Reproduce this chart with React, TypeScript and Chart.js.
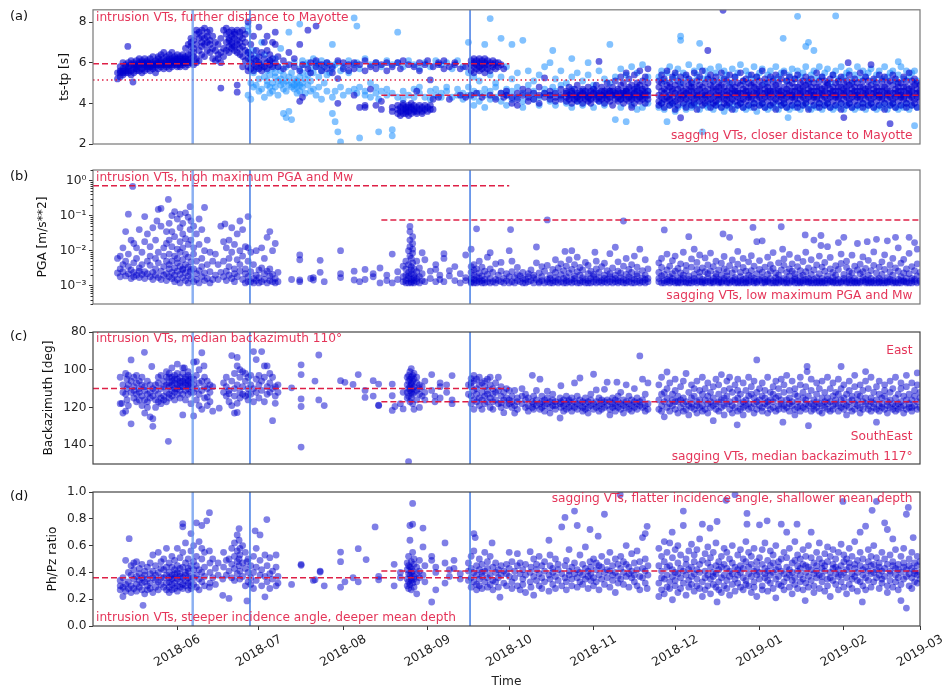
import React, { useEffect, useRef } from 'react';
import { Chart, registerables } from 'chart.js';
Chart.register(...registerables);

type Row = number[];

// ---------- x axis (days since 2018-05-01) ----------
const monthTickDays = [31, 61, 92, 123, 153, 184, 214, 245, 276, 304];
const monthTickLabels = ['2018-06', '2018-07', '2018-08', '2018-09', '2018-10', '2018-11', '2018-12', '2019-01', '2019-02', '2019-03'];
const eventLineDays = [36.65, 57.7, 138.6];

// ---------- panel (a): ts-tp [s]; rows = [day, values...] ----------
const tsTicks = [2, 4, 6, 8];
const tsTickLabels = ['2', '4', '6', '8'];
const aDarkIntrusion: Row[] = [
[9,5.2,5.5],[10,5.3,5.6,5.8,5.5],[11,5.5,5.7,6.0,5.4,5.6],[12,5.6,5.9,5.5,5.8],[12.8,6.8],[13,5.7,5.5,6.0,5.8,5.6],[14,5.6,5.9,6.1,5.4],[14.7,5.05],[15,5.7,5.9,5.5,6.0,5.8],[16,5.8,6.1,5.6,5.9,5.7],[17,5.6,5.9,6.2,5.8,6.0],[18,5.7,6.0,5.9,5.5,6.1],[19,5.8,6.0,5.6,6.2,5.9],[20,5.9,5.7,6.1,5.8,6.0],[21,5.6,5.9,6.2,5.8,6.0],[22,5.8,6.0,6.3,5.7,5.9],[23,5.5,5.9,6.1,5.8,6.0],[24,5.9,6.0,5.7,6.2,6.3],[25,5.8,6.1,5.9,6.4,6.0],[26,5.9,6.2,5.7,6.0,6.5],[27,6.0,5.8,6.3,6.1,5.9],[28,5.9,6.2,6.0,6.4,5.7,6.1],[29,6.0,6.2,5.8,6.1,6.5,5.9],[30,6.1,5.9,6.3,6.0,6.2],[31,6.0,6.2,5.8,6.4,6.1,5.9],[32,6.1,5.9,6.3,6.0,6.2,5.8],[33,6.0,6.2,5.9,6.4,6.1,6.0],[34,6.1,6.3,5.8,6.0,6.7,6.2],[35,6.1,6.4,6.0,6.9,6.2,5.9],[36,6.5,6.8,7.0,6.2,6.0,7.2],[37,6.3,6.7,7.1,5.9,6.5],[38,6.9,7.4,6.2,6.0,7.6],[39,6.6,7.2,7.5,6.1],[40,7.0,7.6,6.8,6.4,7.3],[41,7.2,6.9,7.7,6.3],[42,7.5,7.0,6.6,7.3],[43,7.1,7.6,6.5,6.9],[44,7.3,6.7,6.2],[45,6.6,6.1,7.0],[46,6.4,6.9,6.2],[47,4.75,6.5,6.0,7.2],[48,6.3,7.6,6.7],[49,7.4,7.0,6.6,7.7],[50,7.2,7.5,6.8,6.5,7.1],[51,7.6,6.9,7.3,6.7,7.0],[52,7.4,6.8,7.2,6.6,7.5],[53,4.55,4.9,7.1,6.9,7.6,6.5],[54,7.3,7.0,6.7,7.5,6.4],[55,7.2,6.8,7.6,6.3,5.8],[56,7.4,6.6,6.1,7.0],[57,6.2,5.8,6.5,8.0,5.6]
];
const aDarkTransition: Row[] = [
[58,6.0,5.7,6.4,6.9],[59,5.9,6.2,5.6,7.3],[60,6.1,5.8,6.6],[61,7.75,6.0,5.7,6.3],[62,5.9,6.5,5.6],[63,6.2,5.8,7.0],[64,6.0,6.6,5.7,7.3],[65,6.4,5.9,6.1],[66,7.0,6.2,5.8],[67,6.9,6.0,7.5],[68,6.3,5.8],[70,6.1,5.7],[72,6.5,5.9],[74,5.8,6.2],[76,6.9,5.6,4.1],[77,5.9,4.3],[79,7.6,5.7],[80,6.0,5.5],[82,5.8,7.8,6.1],[84,5.6,5.9],[86,6.0,5.7],[88,5.8,5.5],[90,6.1,5.22,4.0],[92,5.7,6.0],[94,5.9,5.6],[96,6.0,4.4,5.7],[98,5.9,3.8],[100,5.6,6.1,3.9,3.8],[102,5.8,4.7],[104,6.0,5.7,3.9],[106,5.9,4.1,3.7],[108,5.6,6.0],[110,5.8,3.8,3.6],[112,6.0,3.7,3.9,3.5],[113,3.6,3.8,3.4,5.7],[114,3.7,3.5,3.9,4.0,6.1],[115,3.6,3.8,3.5,3.7],[116,3.9,3.6,3.8,3.4,5.9],[117,3.7,3.5,3.8,4.0],[118,3.6,3.9,3.7,5.8],[119,3.8,4.6,3.5,3.6],[120,3.7,3.9,6.0,5.6],[121,3.6,3.8,3.5],[122,3.9,3.7,5.9],[123,3.8,3.6,6.1],[124,5.15,3.7,3.9],[125,3.7,4.2,5.8],[127,5.9,4.3,6.0],[129,6.1,5.7],[131,5.8,4.2],[133,6.0,5.9],[135,5.7,4.4],[137,5.8,4.3],[139,5.9,6.1,5.6,4.4],[140,6.0,5.8,6.2,5.5],[141,5.7,6.1,5.9,4.5],[142,6.0,5.6,6.2,5.8],[143,5.9,6.1,5.7,4.3],[144,6.0,5.8,5.5,6.2],[145,5.9,6.1,5.7],[146,6.0,5.6,4.4],[147,5.8,6.1,5.9],[148,5.7,6.0,4.2],[149,6.0,5.8],[150,5.9,4.5],[151,5.7,4.3]
];
const aDarkSagging: Row[] = [
[152,4.4,4.6],[154,4.3,4.0],[156,4.5,4.2,3.9],[158,4.4,4.7],[160,4.3,4.1,4.6],[162,4.5,4.2],[164,4.4,4.8,4.0],[166,5.25,4.3,4.5],[168,4.6,4.2,4.4],[170,4.3,4.5,4.1],[172,4.4,4.7,4.2],[174,4.5,4.3,4.1,4.6],[175,4.2,4.4,4.8],[176,4.6,4.3,4.0,4.5],[177,4.4,4.2,4.7],[178,4.3,4.5,4.1,4.9],[179,4.6,4.4,4.2],[180,4.5,4.3,4.7,4.0],[181,4.4,4.6,4.2],[182,4.3,4.5,4.8,4.1],[183,4.6,4.4,4.2,4.0],[184,4.5,4.3,4.7],[185,4.4,4.2,4.6,4.9],[186,6.06,4.3,4.5,4.1],[187,4.6,4.4,4.2,4.8],[188,4.5,4.3,4.0,4.6],[189,4.4,4.7,4.2,5.0],[190,4.3,4.5,4.1,4.6],[191,4.6,4.4,4.8,3.9],[192,4.5,4.2,4.4,5.1],[193,4.3,4.6,4.1,4.7],[194,4.4,4.5,4.9,4.2,5.3],[195,4.6,4.3,4.0,4.5,5.0],[196,4.4,4.7,4.2,4.6,5.5],[197,4.5,4.3,4.8,4.1,5.2],[198,4.6,4.4,4.2,4.9,3.8],[199,4.3,4.5,4.7,4.0,5.4],[200,4.4,4.6,4.2,5.0,4.8],[201,4.5,4.3,4.9,4.1,5.6],[202,4.6,4.4,4.2,4.7,5.1],[203,4.3,4.5,4.8,4.0,5.3],[204,4.4,4.6,5.0,4.2,5.7]
];
const aDarkLate: Row[] = [
[208,4.4,4.1,4.8,3.9,5.1],[209,4.6,4.3,5.0,4.0,5.4],[210,4.5,4.2,4.7,3.8,5.2],[211,4.3,4.6,4.9,4.1,5.6],[212,4.4,4.8,4.2,3.9,5.0],[213,4.6,4.3,5.3,4.0,4.7],[214,4.5,4.1,4.9,3.7,5.5],[215,4.2,4.7,4.4,3.9,5.1],[216,3.29,4.5,4.8,4.2,5.3],[217,4.3,4.6,4.0,5.0,4.4],[218,4.7,4.2,4.5,3.8,5.4],[219,4.4,4.9,4.1,5.2,4.6],[220,4.3,4.6,3.9,5.0,4.8],[221,4.5,4.2,4.8,5.5,4.0],[222,4.6,4.3,5.1,3.7,4.4],[223,4.4,4.7,4.1,5.3,4.9],[224,4.2,4.5,4.8,3.9,5.6],[225,4.6,4.3,5.0,4.0,4.4],[226,6.6,4.4,4.7,4.1,5.2],[227,4.5,4.2,4.9,3.8,5.4],[228,4.3,4.6,4.0,5.1,4.8],[229,4.7,4.4,4.1,5.3,3.9],[230,4.4,4.6,4.2,5.0,4.8],[231,4.5,4.3,4.9,3.8,5.5],[231.6,8.58],[232,4.2,4.6,4.8,4.0,5.2],[233,4.6,4.4,5.1,3.9,4.2],[234,4.3,4.5,4.8,5.4,4.0],[235,4.5,4.2,4.7,3.7,5.0],[236,4.4,4.8,4.1,5.3,4.6],[237,4.6,4.3,5.0,3.9,4.5],[238,4.2,4.5,4.9,4.0,5.5],[239,4.5,4.7,4.2,5.1,3.8],[240,4.4,4.1,4.8,5.2,4.6],[241,4.6,4.3,5.0,3.9,4.4],[242,4.3,4.6,4.2,5.4,4.9],[243,4.5,4.8,4.0,5.0,3.8],[244,4.4,4.2,4.7,5.3,4.5],[245,4.6,4.3,5.1,3.9,4.8],[246,4.2,4.5,4.9,4.0,5.6],[247,4.5,4.7,4.3,5.2,3.8],[248,4.4,4.1,4.8,5.0,4.6],[249,4.6,4.3,5.3,3.9,4.5],[250,4.3,4.6,4.0,5.1,4.8],[251,4.5,4.2,4.9,5.4,3.7],[252,4.4,4.7,4.1,5.0,4.6],[253,4.6,4.3,5.2,3.9,4.4],[254,4.2,4.5,4.8,4.0,5.5],[255,4.5,4.7,4.3,5.1,3.8],[256,4.4,4.1,4.9,5.3,4.6],[257,4.6,4.3,5.0,3.9,4.4],[258,4.3,4.6,4.2,5.2,4.8],[259,4.5,4.8,4.0,5.4,3.8],[260,4.4,4.2,4.7,5.0,4.5],[261,4.6,4.3,5.1,3.9,4.8],[262,4.2,4.5,4.9,4.0,5.3],[263,4.5,4.7,4.3,5.0,3.7],[264,4.4,4.1,4.8,5.2,4.6],[265,4.6,4.3,5.0,3.9,4.4],[266,4.3,4.6,4.2,5.5,4.8],[267,4.5,4.8,4.0,5.1,3.8],[268,4.4,4.2,4.7,5.3,4.5],[269,4.6,4.3,5.1,3.9,4.8],[270,4.2,4.5,4.9,4.0,5.0],[271,4.5,4.7,4.3,5.2,3.8],[272,4.4,4.1,4.8,5.4,4.6],[273,4.6,4.3,5.0,3.9,4.4],[274,4.3,4.6,4.2,5.1,4.8],[275,4.5,4.8,4.0,5.3,3.7],[276,3.3,4.4,4.2,4.7,5.0,4.5],[277,4.6,4.3,5.1,3.9,4.8],[277.6,6.0],[278,4.2,4.5,4.9,4.0,5.4],[279,4.5,4.7,4.3,5.0,3.8],[280,4.4,4.1,4.8,5.2,4.6],[281,4.6,4.3,5.0,3.9,4.4],[282,4.3,4.6,4.2,5.5,4.8],[283,4.5,4.8,4.0,5.1,3.8],[284,4.4,4.2,4.7,5.3,4.5],[285,4.6,4.3,5.1,3.9,4.8],[286,5.9,4.2,4.5,4.9,4.0],[287,4.5,4.7,4.3,5.2,3.8],[288,4.4,4.1,4.8,5.0,4.6],[289,4.6,4.3,5.4,3.9,4.4],[290,4.3,4.6,4.2,5.1,4.8],[291,4.5,4.8,4.0,5.3,3.7],[292,4.4,4.2,4.7,5.0,4.5],[293,3.0,4.6,4.3,5.1,3.9],[294,4.2,4.5,4.9,4.0,5.4],[295,4.5,4.7,4.3,5.2,3.8],[296,4.4,4.1,4.8,5.0,4.6],[297,4.6,4.3,5.0,3.9,4.4],[298,4.3,4.6,4.2,5.3,4.8],[299,4.5,4.8,4.0,5.1,3.8],[300,4.4,4.2,4.7,5.5,4.5],[301,4.6,4.3,5.1,3.9,4.8],[302,4.2,4.5,4.9,4.0,5.2],[303,4.5,4.7,4.3,5.0,3.8],[304,4.4,4.6,4.1,4.9]
];
const aLightTransition: Row[] = [
[57,7.55,7.8,4.4,6.5],[58,6.2,5.0,4.2],[59,5.5,6.6,4.8],[60,4.9,5.7,6.3],[61,5.2,4.6,6.0],[62,5.8,4.7,7.0],[63,5.3,4.3,6.4],[64,4.9,5.6,5.1],[65,5.4,4.5,6.1,4.8],[66,5.0,5.7,4.6],[67,4.8,5.3,6.2,5.5],[68,5.1,4.4,5.8],[69,5.6,4.9,5.2,6.7],[70,3.5,4.7,5.4,5.0],[71,3.3,5.1,4.6,5.8],[72,7.5,4.9,5.3,3.6],[73,5.0,4.8,5.5,3.2],[74,4.7,5.2,4.9,6.0],[75,5.0,4.8,5.1,4.5],[76,7.9,4.9,5.3,4.6,5.7],[77,4.8,5.0,5.5,6.1],[78,5.2,4.5,5.9],[79,4.9,5.4,6.0],[80,5.1,4.6,5.7],[81,4.7,5.5,6.2],[82,5.8,4.4,6.0],[83,5.3,4.8,5.9],[84,4.2,5.6,6.1],[85,5.0,5.8],[86,4.6,6.0,5.4],[87,5.5,5.9],[88,6.9,4.3,3.5,5.7],[89,3.1,5.9,4.6],[90,2.6,6.0],[91,2.1,4.8,5.6],[92,5.8,4.4],[94,6.1,5.5,4.6],[96,8.2,4.7,5.9],[97,7.8,4.5,6.0],[98,2.3,4.8,5.7],[100,4.4,6.2,4.6],[102,5.9,4.3,5.0],[104,4.5,6.0,4.8],[105,2.6,4.2],[106,5.8,4.6],[108,4.4,6.1,4.7],[110,2.4,4.5,5.9,2.7],[112,7.5,4.3,6.0],[114,4.6,5.8,4.2],[116,4.4,6.1],[118,4.7,5.9,4.3],[120,4.5,5.7,4.8],[122,4.3,6.0],[124,4.6,5.8,4.2],[126,4.4,6.1,4.7],[128,4.5,5.9,4.3],[130,4.6,6.0,4.8],[132,4.3,5.7],[134,4.7,6.1,4.4],[136,4.5,5.8,4.2],[138,4.8,7.0,4.4,5.5]
];
const aLightSagging: Row[] = [
[140,4.3,4.6,5.3,3.9],[142,4.5,4.1,5.1],[144,6.9,4.4,4.7,3.8],[146,8.17,4.6,4.2,5.4],[148,4.3,4.8,5.0],[150,4.5,7.2,4.1,5.3],[152,4.7,4.4,5.8,3.9],[154,6.9,4.6,4.2,5.2],[156,4.8,4.3,5.5],[158,7.1,4.5,4.1,3.8],[160,4.4,4.9,5.6],[162,4.6,4.2,5.1],[164,4.3,5.4,3.9],[166,4.7,4.5,5.8],[168,4.4,6.0,4.1],[169,6.6,4.8],[170,4.6,5.2,3.9],[172,4.3,4.9,5.6],[174,4.5,5.0,4.0],[176,6.2,4.7,5.3,3.8],[178,4.4,5.5,4.1],[180,4.6,5.1,3.9],[182,4.3,5.4,6.0],[184,4.7,4.9,3.8],[186,4.5,5.6,4.1],[188,4.4,5.2,3.9],[190,6.9,4.6,5.0],[192,3.2,4.5,5.3],[194,4.2,5.7,3.8],[196,3.1,4.6,5.4],[198,4.3,5.8,3.9],[200,4.7,5.5,3.7],[202,4.4,5.9,3.8],[204,4.6,5.3,4.0]
];
const aLightLate: Row[] = [
[208,5.3,3.8],[209,5.6,4.0],[210,3.7,5.1],[211,3.1,5.5],[212,5.8,3.9],[213,4.0,5.2],[214,5.4,3.6],[215,3.8,5.7],[216,7.3,7.1,5.0],[217,3.9,5.5],[218,5.3,3.7],[219,5.9,4.0],[220,3.8,5.1],[221,5.6,3.9],[222,4.0,5.4],[223,6.95,3.7,5.8],[224,2.6,5.2],[225,3.9,5.6],[226,5.3,3.8],[227,5.7,4.0],[228,3.7,5.1],[229,5.5,3.9],[230,4.0,5.8],[231,3.8,5.2],[232,5.6,3.6],[233,3.9,5.4],[234,5.0,3.8],[235,5.7,4.0],[236,3.7,5.3],[237,5.5,3.9],[238,4.0,5.9],[239,3.8,5.1],[240,5.6,3.7],[241,3.9,5.4],[242,5.2,3.8],[243,5.8,4.0],[244,3.6,5.3],[245,5.5,3.9],[246,4.0,5.7],[247,3.8,5.0],[248,5.4,3.7],[249,3.9,5.6],[250,5.2,3.8],[251,5.8,4.0],[252,3.7,5.3],[253,5.5,3.9],[253.7,7.2],[254,4.0,5.6],[255,3.8,5.1],[255.5,3.3],[256,5.4,3.7],[257,3.9,5.7],[258,5.2,3.8],[259,8.28,5.6,4.0],[260,3.7,5.3],[261,5.5,3.9],[262,6.8,4.0,5.8],[263,7.0,3.8,5.1],[264,5.4,3.7],[265,6.6,3.9,5.6],[266,5.2,3.8],[267,5.8,4.0],[268,3.7,5.3],[269,5.5,3.9],[270,4.0,5.7],[271,3.8,5.0],[272,5.4,3.7],[273,8.3,3.9,5.6],[274,5.2,3.8],[275,5.8,4.0],[276,3.7,5.3],[277,5.5,3.9],[278,4.0,5.6],[279,3.8,5.1],[280,5.4,3.7],[281,3.9,5.8],[282,5.2,3.8],[283,5.6,4.0],[284,3.7,5.3],[285,5.5,3.9],[286,4.0,5.7],[287,3.8,5.1],[288,5.4,3.7],[289,3.9,5.6],[290,5.2,3.8],[291,5.8,4.0],[292,3.7,5.3],[293,5.5,3.9],[294,4.0,5.6],[295,3.8,5.1],[296,6.05,5.4,3.7],[297,3.9,5.8],[298,5.2,3.8],[299,5.6,4.0],[300,3.7,5.3],[301,5.5,3.9],[302,2.9,5.6],[303,3.8,5.1]
];

// ---------- panel (b): PGA [m/s**2] ----------
const pgaTicks = [1e-3, 1e-2, 1e-1, 1];
const pgaTickLabels = ['10\u207B\u00B3', '10\u207B\u00B2', '10\u207B\u00B9', '10\u2070'];
const pgaIntrusion: Row[] = [
[9,2.3e-3,6e-3],[10,7e-3,3e-3,1.8e-3],[11,2.5e-3,0.012,4e-3],[12,1.9e-3,5e-3,0.035],[13,2.2e-3,0.11,8e-3,3.5e-3],[14,1.6e-3,0.02,2.8e-3],[14.6,0.68],[15,4.5e-3,2.4e-3,0.016,1.8e-3],[16,0.012,2e-3,6e-3],[17,2.6e-3,0.04,3.2e-3,1.7e-3],[18,9e-3,2.1e-3,4e-3],[19,0.094,2.5e-3,0.018,1.6e-3],[20,5e-3,0.03,2.2e-3],[21,1.8e-3,0.013,3.8e-3,7e-3],[22,0.045,2.4e-3,1.5e-3],[23,6e-3,2e-3,0.02,3e-3],[23.5,0.07],[24,0.15,1.7e-3,9e-3,4.5e-3],[25,2.6e-3,0.16,0.05,1.5e-3],[26,0.012,3.5e-3,2e-3,7e-3],[27,0.035,2.2e-3,5e-3,0.016,1.4e-3],[27.7,0.29],[28,0.06,3e-3,1.8e-3,8e-3,0.02,4e-3],[29,0.1,2.4e-3,5e-3,0.013,1.6e-3,0.035],[30,0.13,3.2e-3,7e-3,2e-3,0.025,1.3e-3],[31,0.08,4.5e-3,2.6e-3,0.011,1.5e-3,6e-3],[32,0.045,2.1e-3,9e-3,3.6e-3,0.018,1.2e-3,0.11],[33,0.06,2.8e-3,5.5e-3,1.7e-3,0.03,0.012,3e-3],[34,0.12,2.3e-3,4e-3,0.008,1.4e-3,0.022],[35,0.09,3.4e-3,1.9e-3,0.015,6.5e-3,1.2e-3],[35.7,0.18,2.5e-3,0.04],[36,0.07,4.8e-3,1.6e-3,0.02,2.9e-3],[37,0.05,3e-3,1.3e-3,8e-3,0.012],[38,0.03,2.2e-3,5e-3,1.5e-3],[39,0.08,0.015,2.7e-3,1.2e-3],[40,0.04,6e-3,1.8e-3,3.5e-3],[41,0.17,0.01,2.3e-3,1.4e-3],[42,0.02,4e-3,1.6e-3],[43,9e-3,2.5e-3,1.2e-3],[44,5e-3,1.5e-3],[45,2e-3,8e-3],[46,1.5e-3,4e-3],[47,0.05,2.4e-3],[48,1.8e-3,0.018,5e-3],[48.5,0.058],[49,2.6e-3,0.012,1.4e-3],[50,6e-3,0.02,2e-3,3.5e-3],[51,1.6e-3,9e-3,0.045],[52,3e-3,0.015,2.2e-3,1.3e-3],[53,0.03,5.5e-3,1.8e-3],[54,0.07,0.01,2.6e-3,4e-3],[55,0.04,1.5e-3,7e-3],[56,2.2e-3,0.013,1.2e-3,3e-3],[57,0.094,0.012,1.8e-3,1.3e-3,5e-3],[58,1.3e-3,2.5e-3,9e-3],[59,1.6e-3,1.2e-3,4e-3],[60,2e-3,1.4e-3,0.01],[61,1.2e-3,2.8e-3,1.7e-3],[62,3.2e-3,1.3e-3,0.012],[63,1.5e-3,2.2e-3,6e-3],[64,1.2e-3,0.024,2.6e-3],[65,0.035,1.4e-3,3e-3,1.9e-3],[66,1.3e-3,0.01,2.1e-3],[67,1.6e-3,0.016,1.2e-3],[68,2.4e-3,1.3e-3]
];
const pgaSagging: Row[] = [
[73,1.5e-3],[76,7.5e-3,5.5e-3,1.3e-3,1.45e-3],[80,1.6e-3],[81,1.7e-3,1.45e-3],[83.5,5.3e-3,2.4e-3],[85,1.3e-3],[91,0.01,2.2e-3,1.7e-3],[96,1.45e-3,2.6e-3],[98,1.3e-3],[100,2.9e-3,1.5e-3],[103,2.2e-3,1.8e-3],[105.5,3.2e-3,1.2e-3],[108,1.4e-3,2e-3],[110,8e-3,1.2e-3],[112,1.5e-3,2.5e-3],[114,3.6e-3,1.3e-3,1.8e-3],[115,2e-3,1.4e-3,5e-3,1.2e-3,3e-3],[116,0.01,1.6e-3,2.4e-3,1.2e-3,4e-3,1.9e-3],[116.5,0.049,0.035,0.02,0.013,7e-3],[117,1.3e-3,2.2e-3,1.5e-3,3.5e-3,6e-3,1.2e-3,2.8e-3],[117.5,0.025,0.016,0.011,8.5e-3,4.5e-3],[118,1.4e-3,1.2e-3,2e-3,3e-3,1.7e-3],[119,2.5e-3,1.3e-3,5e-3,1.6e-3],[120,1.2e-3,3.2e-3,1.8e-3],[121,8.7e-3,1.4e-3,2.2e-3],[122,5.5e-3,1.3e-3],[124,1.6e-3,2.6e-3],[126,2.9e-3,1.3e-3,4e-3],[127.5,1.5e-3,2e-3],[129,8.2e-3,6e-3,1.3e-3],[131,1.9e-3,2.7e-3],[133,1.4e-3,3.5e-3],[135,1.2e-3,2.2e-3],[137,7.5e-3,1.4e-3,1.7e-3],
[139,0.011,1.3e-3,2.4e-3,1.6e-3,3.5e-3,1.2e-3],[140,1.5e-3,2e-3,1.2e-3,4e-3,2.8e-3],[141,0.042,1.4e-3,1.8e-3,3e-3,1.2e-3],[142,2.3e-3,1.3e-3,5e-3,1.6e-3],[143,1.2e-3,3.4e-3,1.9e-3,1.4e-3],[144,2.6e-3,1.5e-3,1.2e-3],[145,6.5e-3,1.3e-3,2.1e-3],[146,8.7e-3,1.6e-3,1.2e-3,3e-3],[147,2.4e-3,1.3e-3],[148,1.5e-3,4.2e-3,1.2e-3],[149,2e-3,1.4e-3],[150,4.6e-3,1.3e-3,2.6e-3],[151,1.6e-3,1.2e-3],[152,2.2e-3,1.4e-3],[153,0.01,1.8e-3,1.2e-3],[153.5,0.04],[154,5e-3,1.3e-3,2.5e-3],[155,1.7e-3,1.2e-3],[156,2.1e-3,1.4e-3,3.3e-3],[157,1.3e-3,1.9e-3],[158,1.6e-3,2.4e-3,1.2e-3],[159,1.2e-3,1.5e-3],[160,2.2e-3,1.3e-3,1.8e-3],[161,1.4e-3,2.8e-3],[162,1.2e-3,1.7e-3,2e-3],[163,0.0127,1.5e-3,4.5e-3],[164,1.3e-3,2.3e-3,1.2e-3],[165,1.8e-3,3.5e-3,1.4e-3],[166,1.2e-3,2.6e-3],[167,0.075,1.5e-3,3.8e-3,1.3e-3],[168,2e-3,1.2e-3,1.6e-3],[169,1.4e-3,2.9e-3,1.2e-3],[170,5.5e-3,1.7e-3,1.3e-3,2.4e-3],[171,1.2e-3,3.2e-3,1.5e-3],[172,2.1e-3,1.3e-3,4.2e-3],[173,1.6e-3,1.2e-3,2.7e-3],[173.5,9.5e-3],[174,1.4e-3,3.6e-3,1.8e-3,1.2e-3],[175,2.3e-3,1.3e-3,5.5e-3],[176,0.01,1.5e-3,1.2e-3,2.9e-3],[177,1.9e-3,1.3e-3,4e-3,1.6e-3],[178,1.2e-3,2.5e-3,6.5e-3],[179,1.4e-3,2e-3,1.2e-3,3.3e-3],[180,1.7e-3,1.3e-3,2.8e-3],[181,1.2e-3,4.6e-3,1.5e-3],[182,2.2e-3,1.4e-3,1.2e-3,3.8e-3],[183,1.6e-3,1.2e-3,2.6e-3],[184,1.3e-3,2.1e-3,1.8e-3],[184.5,9e-3],[185,1.2e-3,3e-3,1.5e-3,5e-3],[186,2.4e-3,1.3e-3,1.7e-3],[187,1.4e-3,1.2e-3,3.5e-3],[188,2e-3,1.6e-3,1.3e-3,4.4e-3],[189,1.2e-3,2.7e-3,1.5e-3],[190,8.2e-3,1.3e-3,2.2e-3,1.8e-3],[191,1.5e-3,1.2e-3,3.2e-3],[192,1.3e-3,2e-3,0.0125,1.6e-3],[193,1.2e-3,2.6e-3,1.4e-3,4.8e-3],[194,1.7e-3,1.3e-3,2.3e-3],[195,0.07,1.2e-3,3.6e-3,1.5e-3],[196,1.4e-3,2.1e-3,6e-3,1.2e-3],[197,1.3e-3,1.8e-3,2.9e-3],[198,1.6e-3,1.2e-3,4e-3,2.4e-3],[199,1.2e-3,1.5e-3,7e-3],[200,2.2e-3,1.3e-3,1.9e-3,3.4e-3],[201,1.4e-3,1.2e-3,0.011],[202,1.7e-3,2.7e-3,1.3e-3],[203,1.2e-3,2e-3,5.5e-3,1.5e-3],[204,1.6e-3,1.3e-3,3e-3]
];
const pgaLate: Row[] = [
[208,1.3e-3,2.4e-3,1.6e-3,4.5e-3],[209,1.2e-3,3.3e-3,1.9e-3,6e-3],[210,0.039,1.4e-3,2.1e-3,1.2e-3],[211,1.5e-3,2.8e-3,1.3e-3,8e-3],[212,1.2e-3,1.8e-3,3.6e-3,1.4e-3],[213,2.2e-3,1.3e-3,5.2e-3,1.6e-3],[214,1.4e-3,1.2e-3,2.6e-3,7e-3],[215,1.7e-3,3.1e-3,1.3e-3,1.2e-3],[216,1.2e-3,2.3e-3,4.2e-3,1.5e-3],[217,1.6e-3,1.3e-3,9e-3,2e-3],[218,1.3e-3,2.7e-3,1.2e-3,3.8e-3],[219,0.025,1.5e-3,1.9e-3,1.2e-3],[220,1.2e-3,3.4e-3,1.4e-3,5.8e-3],[221,0.011,2.1e-3,1.3e-3,1.6e-3],[222,1.4e-3,1.2e-3,2.9e-3,4.6e-3],[223,1.8e-3,1.3e-3,2.4e-3,7.5e-3],[224,1.2e-3,3.2e-3,1.5e-3,1.3e-3],[225,2.5e-3,1.4e-3,6.2e-3,1.2e-3],[226,1.3e-3,1.7e-3,3.9e-3,2.2e-3],[227,1.2e-3,2.6e-3,1.4e-3,8.5e-3],[228,1.6e-3,1.3e-3,3.5e-3,1.2e-3],[229,1.4e-3,2.2e-3,5e-3,1.8e-3],[230,1.2e-3,1.5e-3,2.8e-3,1.3e-3],[231,2e-3,1.3e-3,4.4e-3,1.2e-3],[231.6,0.03],[232,1.4e-3,3e-3,1.6e-3,6.8e-3],[233,1.2e-3,1.9e-3,1.3e-3,2.5e-3],[234,0.024,1.5e-3,3.7e-3,1.2e-3],[235,1.3e-3,2.3e-3,1.4e-3,5.4e-3],[236,1.7e-3,1.2e-3,2.9e-3,1.5e-3],[237,1.2e-3,4.1e-3,1.3e-3,9.5e-3],[238,2.4e-3,1.4e-3,1.8e-3,1.2e-3],[239,1.5e-3,1.2e-3,3.3e-3,6e-3],[240,1.3e-3,2.6e-3,1.6e-3,1.2e-3],[241,1.2e-3,2e-3,4.8e-3,1.4e-3],[242,1.8e-3,1.3e-3,2.7e-3,7.2e-3],[242.6,0.046],[243,1.4e-3,1.2e-3,3.6e-3,1.6e-3],[244,0.018,2.2e-3,1.3e-3,1.2e-3],[245,1.5e-3,2.9e-3,1.4e-3,5.2e-3],[246,0.019,1.2e-3,1.7e-3,2.4e-3],[247,1.3e-3,3.4e-3,1.2e-3,1.5e-3],[248,2.1e-3,1.4e-3,6.5e-3,1.3e-3],[249,1.2e-3,1.6e-3,2.6e-3,4e-3],[250,1.4e-3,1.2e-3,3.1e-3,8.8e-3],[251,1.7e-3,2.3e-3,1.3e-3,1.2e-3],[252,1.2e-3,4.5e-3,1.5e-3,2e-3],[253,0.048,1.3e-3,2.8e-3,1.4e-3],[253.5,0.011],[254,1.6e-3,1.2e-3,3.8e-3,5.8e-3],[255,1.3e-3,2.4e-3,1.2e-3,1.5e-3],[256,1.2e-3,1.9e-3,3e-3,7.8e-3],[257,2.6e-3,1.4e-3,1.3e-3,4.2e-3],[258,1.5e-3,1.2e-3,2.2e-3,1.7e-3],[259,1.2e-3,3.5e-3,1.4e-3,6.2e-3],[260,1.8e-3,1.3e-3,2.7e-3,1.2e-3],[261,1.4e-3,1.2e-3,4.9e-3,2e-3],[261.8,0.028],[262,1.3e-3,2.5e-3,1.5e-3,9e-3],[263,1.2e-3,1.6e-3,3.2e-3,1.3e-3],[264,2.1e-3,1.4e-3,1.2e-3,5.5e-3],[265,0.02,1.5e-3,2.8e-3,1.2e-3],[266,1.3e-3,3.9e-3,1.7e-3,1.2e-3],[267,1.2e-3,2.2e-3,1.4e-3,7e-3],[267.6,0.027,0.014],[268,1.6e-3,1.3e-3,3.4e-3,1.2e-3],[269,1.4e-3,2.6e-3,1.2e-3,4.6e-3],[270,0.013,1.2e-3,1.9e-3,1.5e-3],[271,1.3e-3,3e-3,1.4e-3,6.4e-3],[272,1.2e-3,1.7e-3,2.4e-3,1.3e-3],[273,2e-3,1.4e-3,1.2e-3,3.7e-3],[274,0.017,1.5e-3,2.9e-3,1.2e-3],[275,1.3e-3,1.2e-3,4.3e-3,8e-3],[276,0.024,1.6e-3,2.1e-3,1.4e-3],[277,1.2e-3,3.3e-3,1.3e-3,5e-3],[278,1.5e-3,1.2e-3,2.6e-3,1.8e-3],[279,1.4e-3,2.3e-3,1.2e-3,7.4e-3],[280,1.2e-3,1.6e-3,3.6e-3,1.3e-3],[281,0.016,2.8e-3,1.4e-3,1.2e-3],[282,1.3e-3,1.2e-3,4.1e-3,2.2e-3],[283,1.7e-3,1.4e-3,2.5e-3,6.6e-3],[284,1.2e-3,3.1e-3,1.5e-3,1.3e-3],[284.6,0.018],[285,1.4e-3,1.2e-3,2e-3,5.3e-3],[286,1.3e-3,2.7e-3,1.2e-3,1.6e-3],[287,1.2e-3,3.8e-3,1.4e-3,9.2e-3],[288,0.021,1.5e-3,2.3e-3,1.2e-3],[289,1.6e-3,1.3e-3,3.4e-3,1.2e-3],[290,1.2e-3,2.1e-3,1.4e-3,4.8e-3],[291,1.4e-3,1.2e-3,2.9e-3,7.6e-3],[292,0.019,1.7e-3,1.3e-3,1.2e-3],[293,1.3e-3,2.5e-3,1.5e-3,3.9e-3],[294,1.2e-3,1.4e-3,2e-3,6e-3],[295,0.024,1.3e-3,3.2e-3,1.2e-3],[296,1.5e-3,1.2e-3,2.6e-3,0.012],[297,1.2e-3,4.4e-3,1.4e-3,1.8e-3],[298,1.4e-3,1.3e-3,2.3e-3,5.6e-3],[299,1.3e-3,3e-3,1.2e-3,1.6e-3],[300,0.024,1.2e-3,2.2e-3,8.4e-3],[301,1.6e-3,1.4e-3,3.5e-3,1.2e-3],[302,0.017,1.3e-3,2.7e-3,1.5e-3],[303,0.011,1.2e-3,1.9e-3,4.2e-3],[304,1.4e-3,2.4e-3,1.3e-3]
];

// ---------- panel (c): backazimuth [deg] ----------
const bazTicks = [80, 100, 120, 140];
const bazTickLabels = ['80', '100', '120', '140'];
const bazIntrusion: Row[] = [
[10,118,104],[10.6,117.8],[11,123,112,108],[12,122,102,113],[12.5,105,110,116],[13,108,103,119],[14,94.8,128.7,106,112],[15,104,111,115,109],[16,107,113,117,103],[17,112,116,110,106],[18,114,108,119,104],[18.9,90.8],[19,116,111,123,109],[20,113,117,106,120],[21,108,115,112,125],[21.6,98.3],[22,126,130,114,110],[23,111,116,108,120],[24,113,107,117,104],[25,110,115,103,118],[26,106,114,109,116],[27,108,112,104,117,101],[27.7,138],[28,104,109,113,107,115,102],[29,106,111,99,108,114,104],[30,103,110,107,112,105,116],[31,105,108,113,102,110,97],[32,107,104,111,106,115,109],[33,124,106,102,109,113,99],[33.6,99],[34,104,108,111,105,107,116],[35,106,103,110,108,113,101],[36,109,105,112,104,107,118],[37,96,105,112,124.5,108],[38,95.7,103,110,116],[39,107,113,100,119],[40,91,121,106,111],[40.8,98],[41,104,109,115],[42,114.5,106,119,110],[43,112,117,108],[44,122,109],[46.4,120.4],[48,107,112],[49,109,114,104],[50,112.7,111,117],[51,92.5,106,119],[52,102,110,114,123],[53,93.5,98,108,122.7,117.8],[54,104,112,100,115],[55,101,109,113],[56,106,114,102],[57,104,110,116,113],[58,108,113,103],[59,90.4,110,117],[60,94.6,105,112],[61,103,115,108],[62,90.4,111,106],[63,98,117,104],[64,98,113,109],[65,107,112,102],[66,127,110,104],[67,117.8,109,114],[68,112,108]
];
const bazSagging: Row[] = [
[73,109.6],[76.5,97.4,119.5,141,102.6,115.5],[81.6,106],[83,92.2,116],[85,119],[91,105.8],[92.6,106.7],[95.6,107.8],[97.5,102.6],[100,111,114.7],[103,105.8,114],[105,107.6,118.8,119],[110,107.6,113.8,121.6],[111,119.5],[113,118],[114,120.8,112],[115.5,108,104,112,115],[116,148.7,106,110,103,114],[116.5,101,105,109,111,117],[117,99.4,107,104,112,108,115],[117.5,103,110,106,113,118],[118,121,109,105,112,102],[119,107,111,116,104],[120,110,113,120,108],[121,109,114],[122,106,116,112],[124.5,102.6,111],[125.7,114,117],[127.6,109,107,115],[130,108,112],[132,103.1,118,116],
[138,113,108],[139,104.7,109,114,118,107],[140,106,121,111,103,116],[141,110,105,113,117],[142,108,115,119,104],[143,112,107,116,121],[144,109,114,106,118],[145,111,117,105,113],[146,104,108,120,115],[147,113,110,117,121],[148,107,116,112],[149,104,118,111],[150,117.6,109,114,120],[151,122.8,112,116],[152,115,119,110],[153,118,111,116],[154,114,120,117],[155,111,119,123],[156,117,115,121],[157.7,110,118,114],[159,116,120,113],[160,119,115,122],[161.5,103,117,120],[162,118,121,114],[163,111,116,119],[164.3,105,118,121],[165,117,114,120],[166,119,122,116],[167,111.4,118,115],[168,120,117,123],[169,113,119,116],[170,117,121,119],[171.7,125.6,115,118],[172,108.5,120,117],[173,119,116,122],[174,118,114,121],[175,116,120,117],[176,119,122,115],[177,107,117,120],[178,118,121,114],[179,104.4,119,116],[180,117,122,120],[181,115,118,121],[182,120,117,123],[183,116,119,113],[184,102.4,118,121],[185,110.7,117,120],[186,119,115,122],[187,116,121,118],[188,110.4,117,120],[189,106.6,119,116],[190,121,117,124],[191,118,115,120],[192,119,122,116],[192.6,106.6],[193,117,120,114],[194,112,118,121],[195,119,116,123],[196,108,117,120],[197,121,118,114],[198,116,119,122],[199,110,117,120],[200,118,121,115],[201,92.7,117,119],[202,105,120,116],[203,119,113,122],[204,107,118,121]
];
const bazLate: Row[] = [
[208,116,108,121],[209,119,104,113,122],[210,112,117,125],[211,101.2,115,120,110],[212,118,107,122],[213,113,119,116],[214,105,121,117,111],[215,117,114,123],[216,109,120,116],[217,115,118,106,122],[218,102,117,121],[219,112,119,124],[220,118,108,115,120],[221,114,121,110],[222,117,106,119,123],[223,111,116,120],[224,119,113,104,122],[225,116,121,110],[226,107,118,114,123],[227,120,112,117],[228,127,115,119,109],[229,118,105,121],[230,113,117,122,108],[231,102.6,116,120],[232,119,111,115,124],[233,114,118,106],[234,117,121,110,104],[235,112,119,123],[236,120,108,116],[236.8,129.2],[237,115,122,111,105],[238,118,113,121],[239,107,117,120,124],[240,116,111,119],[241,121,104,114,118],[242,113,120,109],[243,118,115,123,106],[244,94.8,117,121,112],[245,110,119,116],[246,120,107,122,114],[247,115,118,111],[248,119,104,117,123],[249,112,121,116],[250,117,109,120,113],[251,122,115,106],[252,114,119,121,110],[253,118,105,116],[253.6,127.8],[254,121,112,119,108],[255,116,120,103],[256,111,118,122,115],[257,119,106,117],[258,113,121,110,124],[259,117,114,120],[260,108,119,122,104],[261,120,115,112],[262,116,109,121,118],[262.5,98.3,101],[263,129.7,114,119],[264,111,118,105,122],[265,119,116,121],[266,113,107,120,117],[267,118,122,110],[268,106,115,119,123],[269,120,112,117],[270,115,121,104,118],[271,117,110,122],[272,121,114,119,107],[273,112,118,116],[274,119,105,122,113],[275,98.3,116,120,110],[276,118,121,108,115],[277,113,119,124],[278,120,106,117,111],[279,116,122,114],[280,109,118,121,103],[281,119,113,116],[282,114,120,108,123],[283,117,111,121],[284,101,118,115,106],[285,121,110,119],[286,115,122,117,104],[287,118,112,120],[288,127.8,116,121,109],[289,113,119,106,122],[290,120,115,118],[291,108,121,114,111],[292,117,119,123],[293,112,106,120,116],[294,121,118,110],[295,115,122,104,119],[296,118,113,121],[297,110,117,120,107],[298,119,114,123],[299,116,121,109,103],[300,113,118,120],[301,120,107,116,122],[302,111,119,114],[303,101.7,117,121,108],[304,115,120,112]
];

// ---------- panel (d): Ph/Pz ratio ----------
const ratioTicks = [0, 0.2, 0.4, 0.6, 0.8, 1.0];
const ratioTickLabels = ['0.0', '0.2', '0.4', '0.6', '0.8', '1.0'];
const ratioIntrusion: Row[] = [
[10,.34,.27,.3],[11,.22,.36,.29],[12,.49,.31,.26],[13,.4,.33,.28],[13.3,.652],[14,.45,.3,.38,.25],[15,.42,.35,.28,.47],[16,.31,.48,.37,.26],[17,.43,.29,.34,.39],[18,.27,.36,.46,.32],[18.4,.154],[19,.38,.24,.33,.41],[20,.3,.44,.35,.27],[21,.47,.32,.39,.28],[22,.25,.41,.36,.53],[23,.34,.29,.45,.38],[24,.4,.33,.27,.55],[25,.31,.48,.36,.43],[26,.36,.29,.42,.5],[27,.44,.32,.27,.38,.58],[28,.33,.4,.29,.36,.47,.25],[29,.38,.31,.44,.27,.35,.52],[30,.42,.28,.36,.49,.32,.39],[31,.35,.45,.3,.4,.26,.58],[32,.29,.37,.43,.33,.51,.39],[33,.764,.74,.36,.31,.44,.28,.55],[34,.4,.34,.47,.3,.38,.62],[35,.32,.43,.36,.27,.5,.41],[36,.69,.37,.3,.45,.33,.56,.28],[37,.42,.6,.31,.48,.36],[38,.77,.38,.52,.29,.45],[39,.35,.63,.42,.27],[40,.75,.5,.33,.58,.4],[41,.44,.3,.55,.37],[41.8,.785],[42.8,.846,.56,.29],[43,.4,.47,.32],[44,.5,.36],[45,.43,.31],[46,.47,.38],[47.7,.229,.35],[48,.44,.55],[49,.49,.38],[50,.206,.41,.5],[51,.46,.36,.58],[52,.52,.62,.43,.34],[53,.68,.48,.56,.39],[53.7,.727,.64,.45,.5],[54,.58,.41,.53,.35],[55,.47,.6,.37],[56,.43,.55,.3],[56.6,.187,.48],[57,.5,.4,.33],[58,.36,.45,.31],[59,.52,.4,.28],[59.6,.71],[60,.44,.34,.58],[61.4,.68,.38,.49],[62,.3,.42],[63.2,.218,.53,.37],[63.9,.794],[64,.45,.33],[65,.51,.39,.28],[66,.41,.35],[67.3,.53,.44,.3],[68,.37,.32]
];
const ratioSagging: Row[] = [
[73,.31],[76.5,.453,.46],[81,.34],[81.6,.346],[83.5,.403,.41],[85,.3],[91,.552,.48,.29],[92.6,.33],[95.6,.36],[97.5,.577,.33],[100.4,.496],[103.7,.739],[105,.345,.37],[110.7,.46,.3],[113,.36,.4],[115.5,.35,.42,.3,.47],[116,.39,.28,.52,.33,.45],[116.5,.75,.64,.44,.31,.38],[117,.4,.34,.27,.48,.36,.43],[117.5,.915,.76,.55,.32,.41],[118,.37,.46,.29,.35,.5],[119,.44,.24,.39,.33],[120,.41,.36,.49],[121.3,.731,.59,.38],[122,.45,.33],[124.5,.179,.52,.49],[126,.27,.4,.44],[129.4,.62,.47,.32],[131,.37,.42],[132.7,.49,.43],[135,.39,.35],
[138,.41,.34,.47],[139,.36,.29,.52,.43],[140,.69,.4,.33,.56],[140.5,.66],[141,.31,.45,.38,.27],[142,.5,.35,.42,.3],[143,.37,.46,.28,.4],[144,.33,.55,.41],[145,.43,.29,.36,.48],[146,.38,.52,.31],[146.7,.62],[147,.44,.34,.27],[148,.4,.47,.33],[149,.36,.29,.42],[149.6,.215],[150,.45,.38],[151,.32,.41],[152,.39,.46,.3],[153,.55,.37,.43],[154,.33,.48,.28],[155,.41,.36],[156,.54,.3,.45],[157,.39,.27,.47],[158,.35,.42,.31],[159,.46,.38,.25],[160.7,.555,.4,.33],[161,.29,.44],[162,.23,.37,.5],[163,.42,.34,.46],[164,.52,.39,.3],[165,.36,.45,.28],[166,.41,.33,.48],[167.6,.64,.38,.26],[168,.45,.35,.53],[169,.31,.43,.4],[170,.37,.5,.28],[171,.46,.34,.42],[172.3,.739,.39,.3],[173.5,.81,.45,.36],[174,.33,.49,.27],[175,.41,.38,.57],[176,.44,.3,.35],[177,.858,.47,.39],[178,.75,.36,.42,.29],[179,.4,.53,.33],[180,.46,.38,.31],[181,.35,.43,.59],[182,.41,.28,.37],[182.7,.72,.48],[183,.34,.44,.39],[184,.5,.36,.3],[185,.42,.33,.47],[185.7,.67],[186,.38,.45,.27],[187,.44,.35,.52],[188,.834,.4,.31],[189,.36,.48,.42],[190,.29,.41,.55],[191,.45,.34,.38],[192,.4,.5,.25],[193,.37,.46,.32],[193.8,.98],[194,.43,.35,.52],[195,.31,.48,.4],[196,.46,.37,.6],[197,.39,.29,.44],[198,.54,.36,.41],[199,.33,.47,.38],[200,.42,.3,.56],[201,.48,.37,.27],[202,.36,.66,.43],[203,.69,.41,.32,.5],[203.7,.744,.28],[204,.45,.38]
];
const ratioLate: Row[] = [
[208,.32,.45,.58,.22],[209,.41,.27,.52,.36],[210,.48,.35,.63,.24],[211,.38,.29,.44,.55],[212,.45,.33,.62,.28],[212.9,.7],[213,.196,.37,.51,.42],[214,.4,.3,.57,.34],[215,.47,.25,.39,.6],[216,.36,.43,.28,.53],[217,.858,.75,.41,.32],[218,.5,.23,.38,.46],[219,.34,.56,.29,.42],[220,.44,.31,.61,.37],[221,.39,.48,.26,.53],[222,.42,.35,.57,.3],[223,.28,.46,.4,.65],[224,.76,.33,.49,.22],[225,.41,.36,.54,.27],[226,.47,.3,.38,.59],[226.8,.73],[227,.35,.44,.24,.51],[228,.4,.55,.31,.37],[229,.45,.29,.62,.39],[229.4,.78,.18],[230,.33,.48,.27,.42],[231,.52,.36,.44,.25],[232,.38,.46,.3,.58],[232.7,.938],[233,.43,.34,.55,.28],[234,.37,.5,.23,.41],[235,.47,.31,.6,.39],[236,.98,.35,.44,.26],[237,.42,.53,.32,.38],[238,.29,.45,.57,.4],[239,.5,.36,.27,.43],[240,.34,.48,.63,.31],[240.4,.84,.76],[241,.44,.3,.39,.55],[242,.37,.52,.25,.46],[243,.41,.33,.58,.29],[244,.48,.38,.22,.43],[245,.755,.35,.51,.4],[246,.3,.46,.27,.57],[247,.43,.36,.62,.39],[247.8,.785],[248,.26,.49,.41,.34],[249,.45,.32,.56,.38],[250,.4,.53,.28,.47],[251,.35,.42,.21,.6],[252,.48,.37,.31,.44],[253,.76,.3,.5,.41],[254,.39,.55,.33,.27],[255,.44,.7,.36,.51],[256,.29,.42,.58,.38],[257,.47,.34,.4,.24],[258,.36,.49,.63,.31],[258.8,.76],[259,.41,.28,.45,.53],[260,.33,.5,.38,.43],[261,.46,.27,.57,.35],[261.8,.19],[262,.4,.52,.32,.45],[263,.37,.44,.6,.29],[264,.7,.42,.34,.51],[265,.3,.47,.39,.25],[266,.45,.36,.55,.41],[267,.38,.5,.28,.62],[268,.43,.33,.47,.37],[269,.26,.41,.54,.45],[270,.48,.35,.3,.59],[271,.4,.52,.36,.22],[272,.34,.46,.43,.57],[273,.5,.31,.39,.44],[274,.37,.55,.27,.42],[275,.45,.33,.61,.38],[275.7,.93],[276,.29,.48,.4,.53],[277,.42,.36,.5,.24],[278,.47,.31,.44,.58],[279,.35,.52,.39,.28],[280,.43,.37,.63,.46],[281,.4,.26,.49,.34],[282,.7,.45,.33,.55],[282.8,.18],[283,.38,.5,.42,.3],[284,.745,.44,.36,.27],[285,.48,.34,.57,.41],[286,.39,.52,.29,.45],[286.4,.863],[287,.33,.46,.4,.6],[288,.93,.42,.36,.51],[289,.47,.28,.44,.38],[290,.35,.55,.41,.32],[291,.77,.43,.37,.5],[292,.72,.3,.46,.25],[293,.41,.53,.39,.34],[294,.65,.45,.29,.48],[295,.38,.43,.57,.33],[296,.46,.36,.27,.42],[297,.4,.52,.31,.19],[298,.35,.47,.44,.58],[299,.834,.134,.42,.37],[299.7,.885],[300,.5,.3,.45,.39],[301,.43,.36,.55,.28],[301.5,.66],[302,.39,.47,.33,.41],[303,.45,.32,.52,.38],[304,.4,.48,.35]
];

// ---------- reference lines [dayStart, dayEnd, value, style] ----------
const tsRefLines: [number, number, number, string][] = [[0, 153, 5.95, 'dash'], [106, 304, 4.4, 'dash'], [0, 304, 5.15, 'dot']];
const pgaRefLines: [number, number, number, string][] = [[0, 153, 0.71, 'dash'], [106, 304, 0.075, 'dash']];
const bazRefLines: [number, number, number, string][] = [[0, 153, 110, 'dash'], [106, 304, 117, 'dash']];
const ratioRefLines: [number, number, number, string][] = [[0, 153, 0.36, 'dash'], [106, 304, 0.41, 'dash']];

// ---------- styling ----------
const FONT = 'DejaVu Sans';
const FS = 12.2;
const RED = 'rgba(220,20,60,0.95)';
const TEXT_RED = 'rgba(225,30,70,0.9)';
const DARK_A = 'rgba(0,0,205,0.6)';
const LIGHT_A = 'rgba(30,144,255,0.55)';
const DARK = 'rgba(0,0,205,0.5)';
const eventLineColors = ['rgba(100,149,237,0.75)', 'rgba(70,125,230,0.95)', 'rgba(70,125,230,0.95)'];
const eventLineWidths = [2.5, 1.6, 1.6];

const toPoints = (...groups: Row[][]) =>
  groups.flatMap(g => g.flatMap(([d, ...vs]) => vs.map(v => ({ x: d, y: v }))));

interface TextItem { t: string; side: 'l' | 'r'; from: 'top' | 'bottom'; off: number; }
interface PanelCfg {
  key: string; top: number; height: number; padTop: number; padBottom: number;
  letter: string; letterOff: number; title: string; titleX: number;
  yType: 'linear' | 'logarithmic'; yMin: number; yMax: number; reverse: boolean;
  yTicks: number[]; yLabels: string[]; showX: boolean; frame: string;
  datasets: { points: { x: number; y: number }[]; color: string; order: number }[];
  refs: [number, number, number, string][]; texts: TextItem[]; minor?: boolean;
}

const panels: PanelCfg[] = [
  {
    key: 'a', top: 0, height: 157, padTop: 9, padBottom: 13, letter: '(a)', letterOff: 10.5,
    title: 'ts-tp [s]', titleX: 67.5, yType: 'linear', yMin: 2, yMax: 8.6, reverse: false,
    yTicks: tsTicks, yLabels: tsTickLabels, showX: false, frame: '#777',
    datasets: [
      { points: toPoints(aLightTransition, aLightSagging, aLightLate), color: LIGHT_A, order: 2 },
      { points: toPoints(aDarkIntrusion, aDarkTransition, aDarkSagging, aDarkLate), color: DARK_A, order: 1 },
    ],
    refs: tsRefLines,
    texts: [
      { t: 'intrusion VTs, further distance to Mayotte', side: 'l', from: 'top', off: 11 },
      { t: 'sagging VTs, closer distance to Mayotte', side: 'r', from: 'bottom', off: 5 },
    ],
  },
  {
    key: 'b', top: 157, height: 160, padTop: 13, padBottom: 13, letter: '(b)', letterOff: 10,
    title: 'PGA [m/s**2]', titleX: 46, yType: 'logarithmic', yMin: 3e-4, yMax: 2, reverse: false,
    yTicks: pgaTicks, yLabels: pgaTickLabels, showX: false, frame: '#777', minor: true,
    datasets: [{ points: toPoints(pgaIntrusion, pgaSagging, pgaLate), color: DARK, order: 1 }],
    refs: pgaRefLines,
    texts: [
      { t: 'intrusion VTs, high maximum PGA and Mw', side: 'l', from: 'top', off: 11 },
      { t: 'sagging VTs, low maximum PGA and Mw', side: 'r', from: 'bottom', off: 5 },
    ],
  },
  {
    key: 'c', top: 317, height: 161, padTop: 15, padBottom: 14, letter: '(c)', letterOff: 8,
    title: 'Backazimuth [deg]', titleX: 52.4, yType: 'linear', yMin: 80, yMax: 150, reverse: true,
    yTicks: bazTicks, yLabels: bazTickLabels, showX: false, frame: '#444',
    datasets: [{ points: toPoints(bazIntrusion, bazSagging, bazLate), color: DARK, order: 1 }],
    refs: bazRefLines,
    texts: [
      { t: 'intrusion VTs, median backazimuth 110\u00B0', side: 'l', from: 'top', off: 10 },
      { t: 'East', side: 'r', from: 'top', off: 22.3 },
      { t: 'SouthEast', side: 'r', from: 'bottom', off: 23.6 },
      { t: 'sagging VTs, median backazimuth 117\u00B0', side: 'r', from: 'bottom', off: 4.5 },
    ],
  },
  {
    key: 'd', top: 478, height: 212, padTop: 14, padBottom: 0, letter: '(d)', letterOff: 8,
    title: 'Ph/Pz ratio', titleX: 55.8, yType: 'linear', yMin: 0, yMax: 1, reverse: false,
    yTicks: ratioTicks, yLabels: ratioTickLabels, showX: true, frame: '#444',
    datasets: [{ points: toPoints(ratioIntrusion, ratioSagging, ratioLate), color: DARK, order: 1 }],
    refs: ratioRefLines,
    texts: [
      { t: 'sagging VTs, flatter incidence angle, shallower mean depth', side: 'r', from: 'top', off: 10 },
      { t: 'intrusion VTs, steeper incidence angle, deeper mean depth', side: 'l', from: 'bottom', off: 5 },
    ],
  },
];

function overlay(p: PanelCfg) {
  return {
    id: 'overlay_' + p.key,
    afterDatasetsDraw(chart: any) {
      const { ctx, chartArea: a } = chart;
      const xs = chart.scales.x, ys = chart.scales.y;
      ctx.save();
      ctx.beginPath();
      ctx.rect(a.left, a.top, a.right - a.left, a.bottom - a.top);
      ctx.clip();
      p.refs.forEach(([x0, x1, y, style]) => {
        const py = ys.getPixelForValue(y);
        ctx.strokeStyle = RED;
        ctx.lineWidth = 1.5;
        ctx.setLineDash(style === 'dot' ? [1.5, 3] : [6, 3]);
        ctx.beginPath();
        ctx.moveTo(xs.getPixelForValue(x0), py);
        ctx.lineTo(xs.getPixelForValue(x1), py);
        ctx.stroke();
      });
      ctx.setLineDash([]);
      eventLineDays.forEach((d, i) => {
        const x = xs.getPixelForValue(d);
        ctx.strokeStyle = eventLineColors[i];
        ctx.lineWidth = eventLineWidths[i];
        ctx.beginPath();
        ctx.moveTo(x, a.top);
        ctx.lineTo(x, a.bottom);
        ctx.stroke();
      });
      ctx.restore();
    },
    afterDraw(chart: any) {
      const { ctx, chartArea: a } = chart;
      const xs = chart.scales.x, ys = chart.scales.y;
      ctx.save();
      ctx.strokeStyle = p.frame;
      ctx.lineWidth = 1.2;
      ctx.strokeRect(a.left, a.top, a.right - a.left, a.bottom - a.top);
      if (p.minor) {
        ctx.strokeStyle = '#333';
        ctx.lineWidth = 1;
        for (let e = -4; e <= 0; e++) {
          for (let m = 2; m <= 9; m++) {
            const v = m * Math.pow(10, e);
            if (v < p.yMin || v > p.yMax) continue;
            const y = Math.round(ys.getPixelForValue(v)) + 0.5;
            ctx.beginPath();
            ctx.moveTo(a.left - 2.5, y);
            ctx.lineTo(a.left, y);
            ctx.stroke();
          }
        }
      }
      ctx.font = `${FS}px "${FONT}"`;
      ctx.fillStyle = TEXT_RED;
      ctx.textBaseline = 'alphabetic';
      p.texts.forEach(tx => {
        const x = tx.side === 'l' ? a.left + 3 : a.right - 7.5;
        const y = tx.from === 'top' ? a.top + tx.off : a.bottom - tx.off;
        ctx.textAlign = tx.side === 'l' ? 'left' : 'right';
        ctx.fillText(tx.t, x, y);
      });
      ctx.fillStyle = '#111';
      ctx.textAlign = 'left';
      ctx.font = `13px "${FONT}"`;
      ctx.fillText(p.letter, 10, a.top + p.letterOff);
      ctx.font = `${FS}px "${FONT}"`;
      ctx.save();
      ctx.translate(p.titleX, (a.top + a.bottom) / 2);
      ctx.rotate(-Math.PI / 2);
      ctx.textAlign = 'center';
      ctx.fillText(p.title, 0, 0);
      ctx.restore();
      if (p.showX) {
        ctx.fillStyle = '#222';
        monthTickDays.forEach((d, i) => {
          ctx.save();
          ctx.translate(xs.getPixelForValue(d), a.bottom + 25);
          ctx.rotate(-Math.PI / 6);
          ctx.textAlign = 'center';
          ctx.textBaseline = 'middle';
          ctx.fillText(monthTickLabels[i], 0, 0);
          ctx.restore();
        });
        ctx.textAlign = 'center';
        ctx.fillText('Time', (a.left + a.right) / 2, a.bottom + 59);
      }
      ctx.restore();
    },
  };
}

function PanelChart({ p }: { p: PanelCfg }) {
  const ref = useRef<HTMLCanvasElement>(null);
  useEffect(() => {
    const labelFor = (v: number) => {
      let best = 0;
      p.yTicks.forEach((t, i) => { if (Math.abs(t - v) < Math.abs(p.yTicks[best] - v)) best = i; });
      return p.yLabels[best];
    };
    const chart = new Chart(ref.current as HTMLCanvasElement, {
      type: 'scatter',
      data: {
        datasets: p.datasets.map(ds => ({
          data: ds.points,
          backgroundColor: ds.color,
          borderColor: ds.color,
          borderWidth: 0,
          pointRadius: 3.4,
          pointHoverRadius: 3.4,
          order: ds.order,
          clip: 0,
        })),
      },
      options: {
        animation: false,
        responsive: false,
        events: [],
        layout: { padding: { left: 0, right: 24, top: p.padTop, bottom: p.padBottom } },
        plugins: { legend: { display: false }, tooltip: { enabled: false } },
        scales: {
          x: {
            type: 'linear', min: 0, max: 304, display: p.showX,
            afterBuildTicks: (s: any) => { s.ticks = monthTickDays.map(v => ({ value: v })); },
            afterFit: (s: any) => { s.height = p.showX ? 64 : 0; },
            grid: { drawOnChartArea: false, drawTicks: true, tickLength: 4, color: '#333' },
            border: { display: false },
            ticks: { display: false },
          },
          y: {
            type: p.yType, min: p.yMin, max: p.yMax, reverse: p.reverse,
            afterBuildTicks: (s: any) => { s.ticks = p.yTicks.map(v => ({ value: v })); },
            afterFit: (s: any) => { s.width = 93; },
            grid: { drawOnChartArea: false, drawTicks: true, tickLength: 4, color: '#333' },
            border: { display: false },
            ticks: {
              autoSkip: false, padding: 2.5, color: '#222',
              font: { family: FONT, size: FS },
              callback: (v: any) => labelFor(Number(v)),
            },
          },
        },
      } as any,
      plugins: [overlay(p)],
    });
    return () => chart.destroy();
  }, []);
  return (
    <canvas
      ref={ref}
      width={944}
      height={p.height}
      style={{ position: 'absolute', left: 0, top: p.top, width: 944, height: p.height }}
    />
  );
}

export default function App() {
  return (
    <div style={{ position: 'fixed', left: 0, top: 0, width: 944, height: 690, background: '#fff', overflow: 'hidden' }}>
      {panels.map(p => <PanelChart key={p.key} p={p} />)}
    </div>
  );
}
